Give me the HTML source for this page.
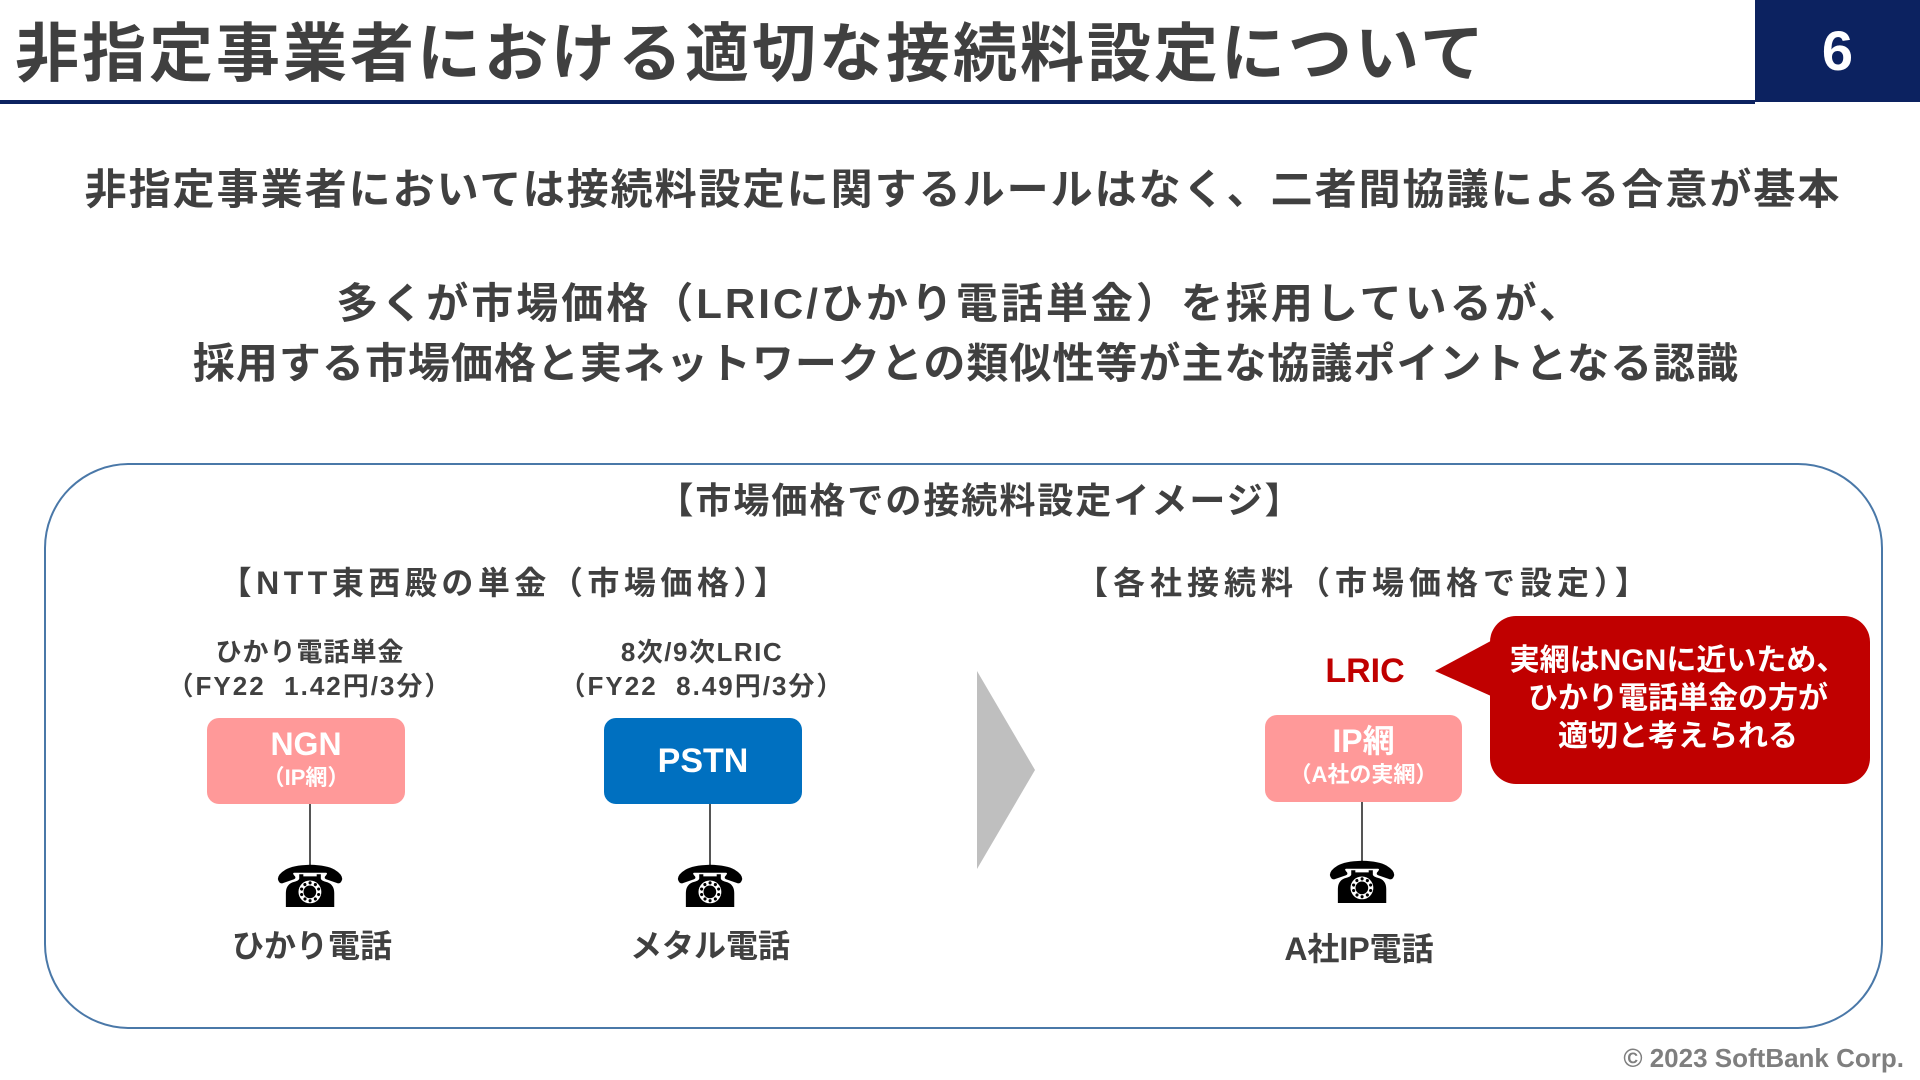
<!DOCTYPE html>
<html><head><meta charset="utf-8"><style>
*{margin:0;padding:0;box-sizing:border-box}
body{width:1920px;height:1080px;position:relative;background:#fff;overflow:hidden;font-family:"Liberation Sans","Noto Sans CJK JP",sans-serif;font-weight:bold;color:#404040}
.a{position:absolute;white-space:nowrap}
.c{transform:translateX(-50%);text-align:center}
.box{position:absolute;border-radius:12px;color:#fff;text-align:center}
.ln{position:absolute;width:2px;background:#555}
.ph{position:absolute;font-size:58px;color:#000;line-height:1;transform:translateX(-50%);font-family:"DejaVu Sans",sans-serif;font-weight:normal}
</style></head><body>
<div class="a" style="left:15px;top:14px;font-size:64px;line-height:80px;letter-spacing:3px;color:#404040">非指定事業者における適切な接続料設定について</div>
<div class="a" style="left:1755px;top:0;width:165px;height:102px;background:#0c2260;color:#fff;font-size:56px;line-height:102px;text-align:center">6</div>
<div class="a" style="left:0;top:100px;width:1755px;height:4px;background:#0c2260"></div>
<div class="a c" style="left:963px;top:164px;font-size:42px;line-height:52px;letter-spacing:2px">非指定事業者においては接続料設定に関するルールはなく、二者間協議による合意が基本</div>
<div class="a c" style="left:960px;top:278px;font-size:42px;line-height:52px;letter-spacing:3px">多くが市場価格（LRIC/ひかり電話単金）を採用しているが、</div>
<div class="a c" style="left:966px;top:338px;font-size:42px;line-height:52px;letter-spacing:1px">採用する市場価格と実ネットワークとの類似性等が主な協議ポイントとなる認識</div>
<div class="a" style="left:44px;top:463px;width:1839px;height:566px;border:2px solid #4a78a8;border-radius:85px"></div>
<div class="a c" style="left:980px;top:480px;font-size:36px;line-height:42px;letter-spacing:2px">【市場価格での接続料設定イメージ】</div>
<div class="a c" style="left:505px;top:563px;font-size:32px;line-height:40px;letter-spacing:4.5px">【NTT東西殿の単金（市場価格）】</div>
<div class="a c" style="left:1364px;top:563px;font-size:32px;line-height:40px;letter-spacing:5px">【各社接続料（市場価格で設定）】</div>
<div class="a c" style="left:310px;top:636px;font-size:26px;line-height:32px;letter-spacing:1px">ひかり電話単金</div>
<div class="a c" style="left:310px;top:670px;font-size:26px;line-height:32px;letter-spacing:2px">（FY22&nbsp;&nbsp;1.42円/3分）</div>
<div class="a c" style="left:702px;top:636px;font-size:26px;line-height:32px;letter-spacing:1.5px">8次/9次LRIC</div>
<div class="a c" style="left:702px;top:670px;font-size:26px;line-height:32px;letter-spacing:2px">（FY22&nbsp;&nbsp;8.49円/3分）</div>
<div class="box" style="left:207px;top:718px;width:198px;height:86px;background:#ff9999"><div style="font-size:32px;line-height:40px;margin-top:6px">NGN</div><div style="font-size:22px;line-height:28px">（IP網）</div></div>
<div class="box" style="left:604px;top:718px;width:198px;height:86px;background:#0070c0;font-size:34px;line-height:86px">PSTN</div>
<div class="box" style="left:1265px;top:715px;width:197px;height:87px;background:#ff9999"><div style="font-size:32px;line-height:40px;margin-top:6px">IP網</div><div style="font-size:22px;line-height:28px">（A社の実網）</div></div>
<div class="ln" style="left:309px;top:804px;height:62px"></div>
<div class="ln" style="left:709px;top:804px;height:62px"></div>
<div class="ln" style="left:1361px;top:802px;height:60px"></div>
<div class="ph" style="left:310px;top:858px">☎</div>
<div class="ph" style="left:710px;top:858px">☎</div>
<div class="ph" style="left:1362px;top:854px">☎</div>
<div class="a c" style="left:312px;top:926px;font-size:32px;line-height:40px">ひかり電話</div>
<div class="a c" style="left:710px;top:926px;font-size:32px;line-height:40px">メタル電話</div>
<div class="a c" style="left:1359px;top:929px;font-size:32px;line-height:40px">A社IP電話</div>
<svg class="a" style="left:0;top:0" width="1920" height="1080">
<polygon points="977,671 1035,770 977,869" fill="#bfbfbf"/>
<rect x="1490" y="616" width="380" height="168" rx="26" fill="#c00000"/>
<polygon points="1435,671 1500,636 1500,700" fill="#c00000"/>
</svg>
<div class="a c" style="left:1365px;top:650px;font-size:34px;line-height:42px;color:#c00000">LRIC</div>
<div class="a c" style="left:1678px;top:642px;font-size:30px;line-height:38px;color:#fff;text-align:center">実網はNGNに近いため、<br>ひかり電話単金の方が<br>適切と考えられる</div>
<div class="a" style="right:16px;top:1043px;font-size:26px;line-height:30px;color:#7f7f7f">© 2023 SoftBank Corp.</div>
</body></html>
